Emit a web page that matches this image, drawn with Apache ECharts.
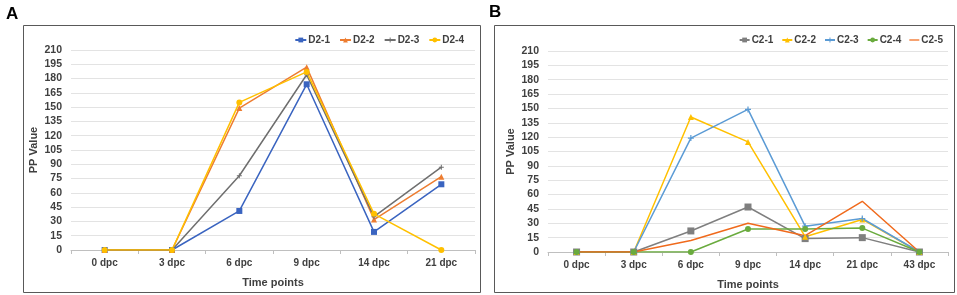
<!DOCTYPE html>
<html><head><meta charset="utf-8">
<script src="https://cdn.jsdelivr.net/npm/echarts@6/dist/echarts.min.js"></script>
<style>html,body{margin:0;padding:0;background:#fff}#c{width:957px;height:295px}</style>
</head><body><div id="c"></div>
<script>
var catsA = ['0 dpc','3 dpc','6 dpc','9 dpc','14 dpc','21 dpc'];
var catsB = ['0 dpc','3 dpc','6 dpc','9 dpc','14 dpc','21 dpc','43 dpc'];
var D2_1 = [0, 0, 41, 174, 19, 69];
var D2_2 = [0, 0, 149, 192, 32, 77];
var D2_3 = [0, 0, 78, 184, 35, 87];
var D2_4 = [0, 0, 155, 187, 38, 0];
var C2_1 = [0, 0, 22, 47, 14, 15, 0];
var C2_2 = [0, 0, 141, 115, 16, 34, 0];
var C2_3 = [0, 0, 119, 149, 27, 35, 0];
var C2_4 = [0, 0, 0, 24, 24, 25, 0];
var C2_5 = [0, 0, 12, 30, 17, 53, 0];
var yMin = 0, yMax = 210, yStep = 15;

var FONT = 'Liberation Sans, Arial, sans-serif';
var plus = 'path://M4,0L6,0L6,4L10,4L10,6L6,6L6,10L4,10L4,6L0,6L0,4L4,4Z';
var lineIcon = 'path://M0,0L16,0L16,2L0,2Z';

function yAxis(gi){
  return {gridIndex:gi, type:'value', min:yMin, max:yMax, interval:yStep,
    name:'PP Value', nameLocation:'middle', nameGap:32,
    nameTextStyle:{fontFamily:FONT, fontWeight:'bold', fontSize:11, color:'#404040'},
    axisLine:{show:false}, axisTick:{show:false},
    axisLabel:{fontFamily:FONT, fontWeight:'bold', fontSize:10.5, color:'#404040', margin:9},
    splitLine:{lineStyle:{color:'#e3e3e3', width:1}}};
}
function xAxis(gi, cats){
  return {gridIndex:gi, type:'category', data:cats, boundaryGap:true,
    name:'Time points', nameLocation:'middle', nameGap:27,
    nameTextStyle:{fontFamily:FONT, fontWeight:'bold', fontSize:11, color:'#404040'},
    axisLine:{lineStyle:{color:'#bfbfbf'}},
    axisTick:{show:true, length:4, lineStyle:{color:'#bfbfbf'}},
    axisLabel:{fontFamily:FONT, fontWeight:'bold', fontSize:10, color:'#404040', margin:8}};
}
function ser(name, data, color, symbol, size, gi){
  return {name:name, type:'line', data:data, xAxisIndex:gi, yAxisIndex:gi,
    symbol:symbol, symbolSize:size, showSymbol: symbol!=='none',
    lineStyle:{color:color, width:1.5}, itemStyle:{color:color},
    emphasis:{disabled:true}, animation:false};
}
var legendText = {fontFamily:FONT, fontWeight:'bold', fontSize:10, color:'#404040', padding:[0,0,0,-3]};
var chart = echarts.init(document.getElementById('c'), null, {renderer:'canvas'});
chart.setOption({
  animation:false,
  backgroundColor:'#fff',
  textStyle:{fontFamily:FONT},
  grid:[{left:71, right:482, top:50, bottom:45},
        {left:548, right:9, top:51, bottom:43}],
  xAxis:[xAxis(0,catsA), xAxis(1,catsB)],
  yAxis:[yAxis(0), yAxis(1)],
  legend:[
    {data:['D2-1','D2-2','D2-3','D2-4'], right:957-469, top:30, itemWidth:11, itemHeight:6, itemGap:9,
     textStyle:legendText},
    {data:['C2-1','C2-2','C2-3','C2-4',{name:'C2-5', icon:lineIcon}], right:9, top:30, itemWidth:10, itemHeight:6, itemGap:8,
     textStyle:legendText}
  ],
  series:[
    ser('D2-1', D2_1, '#3a64c0', 'rect', 6, 0),
    ser('D2-2', D2_2, '#ed7d31', 'triangle', 6, 0),
    ser('D2-3', D2_3, '#6f6f6f', plus, 5, 0),
    ser('D2-4', D2_4, '#ffc000', 'circle', 6, 0),
    ser('C2-1', C2_1, '#7f7f7f', 'rect', 7, 1),
    ser('C2-2', C2_2, '#ffc000', 'triangle', 6, 1),
    ser('C2-3', C2_3, '#5b9bd5', plus, 6, 1),
    ser('C2-4', C2_4, '#6aab3e', 'circle', 6, 1),
    ser('C2-5', C2_5, '#f06a1c', 'none', 0, 1)
  ],
  graphic:[
    {type:'rect', shape:{x:23.5, y:25.5, width:457, height:267}, style:{fill:null, stroke:'#595959', lineWidth:1}, silent:true, z:-1},
    {type:'rect', shape:{x:494.5, y:25.5, width:460, height:267}, style:{fill:null, stroke:'#595959', lineWidth:1}, silent:true, z:-1},
    {type:'text', left:6, top:6, style:{text:'A', font:'bold 17px '+FONT, fill:'#000'}},
    {type:'text', left:489, top:4, style:{text:'B', font:'bold 17px '+FONT, fill:'#000'}}
  ]
});
</script></body></html>
